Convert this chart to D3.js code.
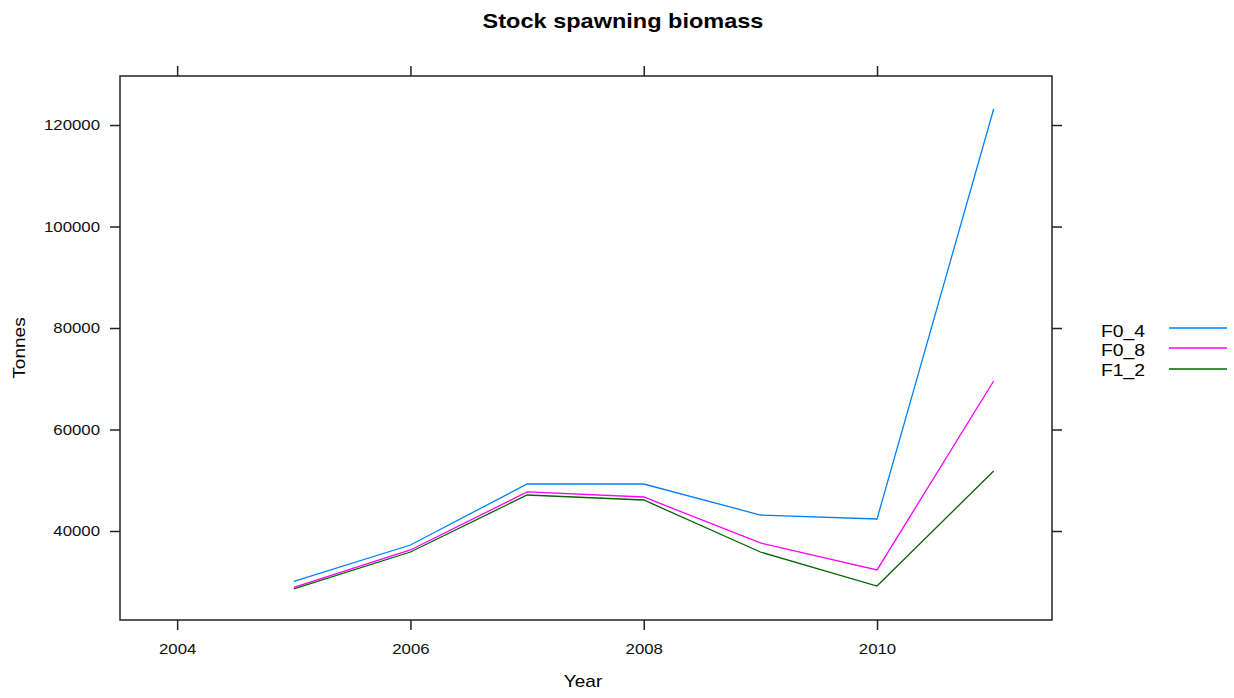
<!DOCTYPE html>
<html><head><meta charset="utf-8">
<script src="https://cdn.jsdelivr.net/npm/d3@7"></script>
<style>body{margin:0;background:#fff;}svg{display:block;font-family:"Liberation Sans",Arial,sans-serif;}</style>
</head><body><svg id="c" width="1234" height="698"></svg>
<script>
const years = [2005, 2006, 2007, 2008, 2009, 2010, 2011];
const seriesNames = ["F0_4", "F0_8", "F1_2"];
const F0_4 = [30050, 37240, 49260, 49260, 43150, 42370, 123150];
const F0_8 = [28870, 36260, 47690, 46700, 37640, 32320, 69560];
const F1_2 = [28570, 35860, 47090, 46110, 35860, 29160, 51820];
const colors = ["#0080ff", "#ff00ff", "#006400"];
const xTicks = [2004, 2006, 2008, 2010];
const yTicks = [40000, 60000, 80000, 100000, 120000];

const SX = 1.12;
const svg = d3.select("#c");
const L = 120, R = 1052, T = 76, B = 620;
const x = d3.scaleLinear().domain([2003.51, 2011.5]).range([L, R]);
const y = d3.scaleLinear().domain([22460, 129660]).range([B, T]);

const data = [F0_4, F0_8, F1_2];
const line = d3.line().x((d, i) => x(years[i])).y(d => y(d));
data.forEach((s, k) => {
  svg.append("path").attr("d", line(s)).attr("fill", "none")
    .attr("stroke", colors[k]).attr("stroke-width", 1.3);
});

svg.append("rect").attr("x", L).attr("y", T).attr("width", R - L).attr("height", B - T)
  .attr("fill", "none").attr("stroke", "#222").attr("stroke-width", 1.5);

const axB = svg.append("g").attr("transform", `translate(0,${B})`)
  .call(d3.axisBottom(x).tickValues(xTicks).tickFormat(d3.format("d")).tickSize(10).tickPadding(13));
const axT = svg.append("g").attr("transform", `translate(0,${T})`)
  .call(d3.axisTop(x).tickValues(xTicks).tickSize(10).tickFormat(""));
const axL = svg.append("g").attr("transform", `translate(${L},0)`)
  .call(d3.axisLeft(y).tickValues(yTicks).tickFormat(d3.format("d")).tickSize(10).tickPadding(10));
const axR = svg.append("g").attr("transform", `translate(${R},0)`)
  .call(d3.axisRight(y).tickValues(yTicks).tickSize(10).tickFormat(""));
[axB, axT, axL, axR].forEach(a => {
  a.select(".domain").remove();
  a.selectAll("line").attr("stroke", "#222").attr("stroke-width", 1.5);
  a.selectAll("text").attr("font-size", 15).attr("fill", "#111")
    .attr("font-family", "'Liberation Sans', Arial, sans-serif");
});
axB.selectAll("text").attr("transform", `scale(${SX},1)`);
axL.selectAll("text").attr("x", -20 / SX).attr("transform", `scale(${SX},1)`);

function label(cx, cy, rot, size, weight, txt, anchor) {
  svg.append("text")
    .attr("transform", `translate(${cx},${cy}) rotate(${rot}) scale(${SX},1)`)
    .attr("text-anchor", anchor || "middle").attr("font-size", size)
    .attr("font-weight", weight).attr("fill", "#000").text(txt);
}
label(623, 28, 0, 21, "bold", "Stock spawning biomass");
label(583, 687, 0, 17, "normal", "Year");
label(25, 348, -90, 17, "normal", "Tonnes");

const legY = [328, 348, 369];
const legBase = [336.5, 355.5, 375.5];
seriesNames.forEach((n, k) => {
  label(1101, legBase[k], 0, 17.3, "normal", n, "start");
  svg.append("line").attr("x1", 1169).attr("x2", 1227).attr("y1", legY[k]).attr("y2", legY[k])
    .attr("stroke", colors[k]).attr("stroke-width", 1.5);
});
</script></body></html>
